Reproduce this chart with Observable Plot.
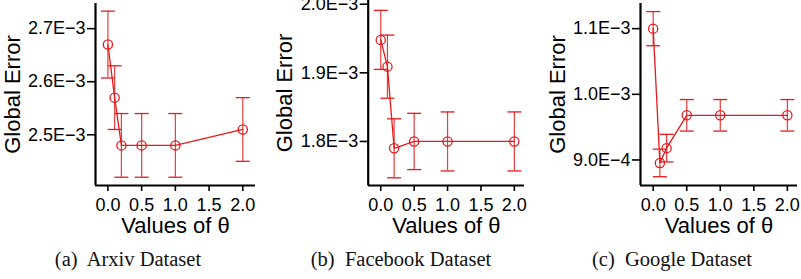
<!DOCTYPE html>
<html>
<head>
<meta charset="utf-8">
<script src="https://cdn.jsdelivr.net/npm/d3@7"></script>
<script src="https://cdn.jsdelivr.net/npm/@observablehq/plot@0.6"></script>
<style>
  body { margin: 0; background: #fff; }
  #fig { position: relative; width: 801px; height: 279px; overflow: hidden; background: #fff; }
  .panel { position: absolute; top: 0; width: 267px; height: 279px; }
  .panel svg { position: absolute; left: 0; top: 0; overflow: visible; }
  .cap { position: absolute; top: 249px; width: 200px; text-align: center; white-space: pre;
         font-family: "Liberation Serif", "DejaVu Serif", serif; font-size: 20.5px; line-height: 21px; color: #111; }
</style>
</head>
<body>
<div id="fig"></div>
<script>
// ---- data ----
const thetas = [0, 0.1, 0.2, 0.5, 1.0, 2.0];
const xTicks = [0, 0.5, 1.0, 1.5, 2.0];

const arxivMean = [2.67e-3, 2.57e-3, 2.48e-3, 2.48e-3, 2.48e-3, 2.51e-3];
const arxivErr  = [0.063e-3, 0.06e-3, 0.06e-3, 0.06e-3, 0.06e-3, 0.06e-3];
const arxivTicks = [2.5e-3, 2.6e-3, 2.7e-3];

const facebookMean = [1.948e-3, 1.909e-3, 1.79e-3, 1.80e-3, 1.80e-3, 1.80e-3];
const facebookErr  = [0.043e-3, 0.046e-3, 0.043e-3, 0.041e-3, 0.043e-3, 0.043e-3];
const facebookTicks = [1.8e-3, 1.9e-3, 2.0e-3];

const googleMean = [1.10e-3, 0.8955e-3, 0.918e-3, 0.968e-3, 0.968e-3, 0.968e-3];
const googleErr  = [0.026e-3, 0.021e-3, 0.021e-3, 0.024e-3, 0.024e-3, 0.024e-3];
const googleTicks = [9.0e-4, 1.0e-3, 1.1e-3];

const captions = ["(a)  Arxiv Dataset", "(b)  Facebook Dataset", "(c)  Google Dataset"];
const xTitle = "Values of \u03B8";
const yTitle = "Global Error";

// ---- drawing ----
const RED = "#e41a1c";
const sciFmt = d => d3.format(".1e")(d).replace("e", "E").replace("-", "\u2212");
const capSymbol = {
  draw(ctx, size) { const r = Math.sqrt(size / Math.PI); ctx.moveTo(-r, 0); ctx.lineTo(r, 0); }
};

function panel({left, mean, err, yTicks, xDomain, yDomain, marginLeft, marginRight, marginTop, caption, capCenter}) {
  const W = 267, H = 240, frameBottom = 185;
  const data = thetas.map((t, i) => ({t, m: mean[i], lo: mean[i] - err[i], hi: mean[i] + err[i]}));
  const chart = Plot.plot({
    width: W, height: H,
    marginLeft, marginRight, marginTop, marginBottom: H - frameBottom,
    style: {fontFamily: "'Liberation Sans', Arial, sans-serif", color: "#000", background: "transparent", overflow: "visible"},
    x: {domain: xDomain, label: null},
    y: {domain: yDomain, label: null},
    marks: [
      Plot.axisX(xTicks, {label: null, tickSize: 6, tickPadding: 6.5, fontSize: 18, strokeWidth: 1.6, tickFormat: d3.format(".1f")}),
      Plot.axisY(yTicks, {label: null, tickSize: 8, tickPadding: 2, fontSize: 18, strokeWidth: 1.6, tickFormat: sciFmt}),
      Plot.ruleX([xDomain[0]], {stroke: "#000", strokeWidth: 2.2}),
      Plot.ruleY([yDomain[0]], {stroke: "#000", strokeWidth: 2.2}),
      Plot.ruleX(data, {x: "t", y1: "lo", y2: "hi", stroke: RED, strokeWidth: 1.2, strokeOpacity: 0.85}),
      Plot.dot(data, {x: "t", y: "lo", symbol: capSymbol, r: 7, stroke: RED, strokeWidth: 1.3, fill: "none"}),
      Plot.dot(data, {x: "t", y: "hi", symbol: capSymbol, r: 7, stroke: RED, strokeWidth: 1.3, fill: "none"}),
      Plot.line(data, {x: "t", y: "m", stroke: RED, strokeWidth: 1.3}),
      Plot.dot(data, {x: "t", y: "m", r: 4.6, stroke: RED, strokeWidth: 1.3, fill: "none"}),
      Plot.text([xTitle], {text: d => d, frameAnchor: "bottom", lineAnchor: "middle", textAnchor: "middle", dy: 40.5, fontSize: 22, fill: "#000"}),
      Plot.text([yTitle], {text: d => d, frameAnchor: "left", lineAnchor: "middle", textAnchor: "middle", dx: -83, rotate: -90, fontSize: 22, fill: "#000"})
    ]
  });
  const div = document.createElement("div");
  div.className = "panel";
  div.style.left = left + "px";
  div.appendChild(chart);
  const cap = document.createElement("div");
  cap.className = "cap";
  cap.textContent = caption;
  cap.style.left = (capCenter - 100) + "px";
  div.appendChild(cap);
  document.getElementById("fig").appendChild(div);
  return chart;
}

panel({left: 0, mean: arxivMean, err: arxivErr, yTicks: arxivTicks,
       xDomain: [-0.184, 2.188], yDomain: [2.4044e-3, 2.7474e-3],
       marginLeft: 95, marginRight: 12, marginTop: 3, caption: captions[0], capCenter: 128});
panel({left: 267, mean: facebookMean, err: facebookErr, yTicks: facebookTicks,
       xDomain: [-0.188, 2.152], yDomain: [1.7358e-3, 2.0054e-3],
       marginLeft: 100.7, marginRight: 10, marginTop: 0, caption: captions[1], capCenter: 134});
panel({left: 534, mean: googleMean, err: googleErr, yTicks: googleTicks,
       xDomain: [-0.189, 2.151], yDomain: [0.8611e-3, 1.1383e-3],
       marginLeft: 106, marginRight: 4, marginTop: 3, caption: captions[2], capCenter: 138});
</script>
</body>
</html>
